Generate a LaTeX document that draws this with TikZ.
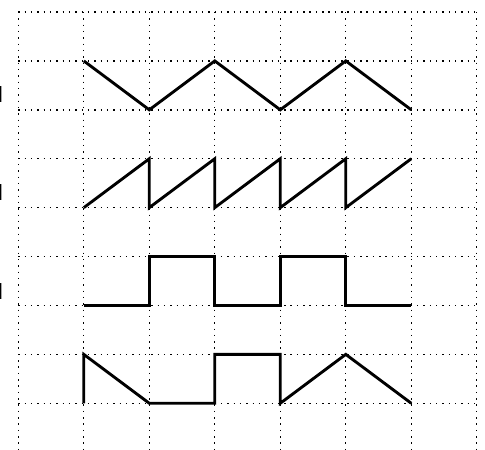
\documentclass[tikz,border=0pt]{standalone}
\begin{document}
\begin{tikzpicture}[x=1cm,y=0.7468cm,
  gridline/.style={line width=0.6pt,dash pattern=on 0.6pt off 2.15pt,black},
  wave/.style={line width=1.25pt,line join=miter,black},
  cutlabel/.style={anchor=base east,inner sep=0pt,font=\sffamily}]
\useasboundingbox (-0.2794,0.2453) rectangle (7.1258,-8.955);
% dotted grid
\foreach \i in {0,...,7} \draw[gridline] (\i,0) -- (\i,-9.2);
\foreach \j in {0,...,8} \draw[gridline] (0,-\j) -- (7,-\j);
% clipped labels on the left
\node[cutlabel] (la) at ([xshift=1.64pt]-0.2794,-1.86) {l};
\node[cutlabel] (lb) at ([xshift=1.64pt]-0.2794,-3.85) {l};
\node[cutlabel] (lc) at ([xshift=1.64pt]-0.2794,-5.88) {l};
% triangle wave
\draw[wave] (1,-1) -- (2,-2) -- (3,-1) -- (4,-2) -- (5,-1) -- (6,-2);
% sawtooth wave
\draw[wave] (1,-4) -- (2,-3) -- (2,-4) -- (3,-3) -- (3,-4) -- (4,-3) -- (4,-4) -- (5,-3) -- (5,-4) -- (6,-3);
% square wave
\draw[wave] (1,-6) -- (2,-6) -- (2,-5) -- (3,-5) -- (3,-6) -- (4,-6) -- (4,-5) -- (5,-5) -- (5,-6) -- (6,-6);
% mixed wave
\draw[wave] (1,-8) -- (1,-7) -- (2,-8) -- (3,-8) -- (3,-7) -- (4,-7) -- (4,-8) -- (5,-7) -- (6,-8);
\end{tikzpicture}
\end{document}
